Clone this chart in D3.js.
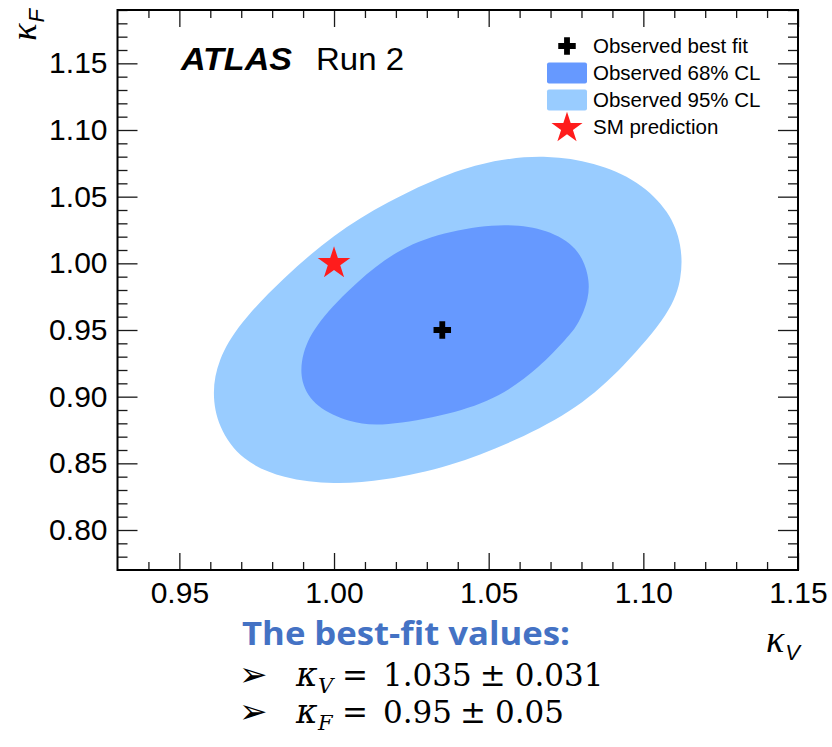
<!DOCTYPE html>
<html>
<head>
<meta charset="utf-8">
<script src="https://cdn.jsdelivr.net/npm/d3@7"></script>
<style>
  html, body { margin: 0; padding: 0; background: #fff; }
  svg { display: block; }
</style>
</head>
<body>
<svg id="chart" width="832" height="747"></svg>
<script>
// Best-fit coupling modifiers and their uncertainties
const kvBest = 1.035, kvErr = 0.031;
const kfBest = 0.95, kfErr = 0.05;
// Standard Model expectation
const smPoint = [1.00, 1.00];

// Axis ranges and labelled ticks
const kvRange = [0.93, 1.15];
const kfRange = [0.77, 1.19];
const kvMajorTicks = [0.95, 1.00, 1.05, 1.10, 1.15];
const kfMajorTicks = [0.80, 0.85, 0.90, 0.95, 1.00, 1.05, 1.10, 1.15];

// Likelihood contours, [kappa_V, kappa_F]
const contour95 = [
  [1.054, 1.0785], [1.069, 1.081], [1.084, 1.076], [1.0985, 1.062],
  [1.1085, 1.039], [1.1125, 1.014], [1.1125, 0.989], [1.109, 0.9635],
  [1.0935, 0.922], [1.079, 0.8915], [1.059, 0.867], [1.0375, 0.8475],
  [1.016, 0.837], [1.000, 0.834], [0.9835, 0.8385], [0.970, 0.852],
  [0.9625, 0.877], [0.9605, 0.903], [0.9625, 0.9275], [0.969, 0.954],
  [0.9835, 0.989], [1.000, 1.022], [1.017, 1.046], [1.0375, 1.0685]
];
const contour68 = [
  [1.0375, 1.0248], [1.056, 1.0302], [1.069, 1.0255], [1.079, 1.012],
  [1.0825, 0.991], [1.0825, 0.974], [1.079, 0.954], [1.0755, 0.9445],
  [1.0665, 0.922], [1.0537, 0.8995], [1.0375, 0.8865], [1.0158, 0.8775],
  [1.005, 0.8805], [0.994, 0.892], [0.989, 0.9103], [0.9895, 0.9328],
  [0.9945, 0.956], [1.0074, 0.9865], [1.0213, 1.012]
];

const legendLabels = ["Observed best fit", "Observed 68% CL", "Observed 95% CL", "SM prediction"];

const colors = { cl68: "#6699ff", cl95: "#99ccff", sm: "#ff1c1c", fit: "#000" };

const svg = d3.select("#chart");
const x = d3.scaleLinear().domain(kvRange).range([117.5, 798]);
const y = d3.scaleLinear().domain(kfRange).range([570, 10]);
const [x0, x1] = x.range();
const [y0, y1] = y.range();

svg.append("clipPath").attr("id", "frame-clip")
  .append("rect").attr("x", x0).attr("y", y1).attr("width", x1 - x0).attr("height", y0 - y1);

// Contours
const contourLine = d3.line()
  .x(d => x(d[0])).y(d => y(d[1]))
  .curve(d3.curveBasisClosed);

const plot = svg.append("g").attr("clip-path", "url(#frame-clip)");
plot.append("path").attr("d", contourLine(contour95)).attr("fill", colors.cl95);
plot.append("path").attr("d", contourLine(contour68)).attr("fill", colors.cl68);

// SM prediction and best fit
const star = d3.symbol().type(d3.symbolStar);
const cross = d3.symbol().type(d3.symbolCross);
plot.append("path").attr("d", star.size(330)())
  .attr("transform", `translate(${x(smPoint[0])},${y(smPoint[1])})`)
  .attr("fill", colors.sm);
plot.append("path").attr("d", cross.size(170)())
  .attr("transform", `translate(${x(kvBest)},${y(kfBest)})`)
  .attr("fill", colors.fit);

// Axes: major and minor ticks on all four sides, pointing inward
const kvMinor = d3.range(0.94, 1.1505, 0.01).filter(v => !kvMajorTicks.some(t => Math.abs(t - v) < 1e-6));
const kfMinor = d3.range(0.78, 1.1905, 0.01).filter(v => !kfMajorTicks.some(t => Math.abs(t - v) < 1e-6));
const fmt2 = d3.format(".2f");

function styleAxis(g) {
  g.select(".domain").remove();
  g.selectAll(".tick line").attr("stroke", "#1a1a1a").attr("stroke-width", 1.3);
  g.selectAll(".tick text").attr("fill", "#000");
  g.attr("font-family", "'Liberation Sans', Arial, sans-serif").attr("font-size", 30);
}

svg.append("g").attr("transform", `translate(0,${y0})`)
  .call(d3.axisBottom(x).tickValues(kvMajorTicks).tickSize(-17).tickPadding(12).tickFormat(fmt2)).call(styleAxis);
svg.append("g").attr("transform", `translate(0,${y0})`)
  .call(d3.axisBottom(x).tickValues(kvMinor).tickSize(-8).tickFormat("")).call(styleAxis);
svg.append("g").attr("transform", `translate(0,${y1})`)
  .call(d3.axisTop(x).tickValues(kvMajorTicks).tickSize(-17).tickFormat("")).call(styleAxis);
svg.append("g").attr("transform", `translate(0,${y1})`)
  .call(d3.axisTop(x).tickValues(kvMinor).tickSize(-8).tickFormat("")).call(styleAxis);

svg.append("g").attr("transform", `translate(${x0},0)`)
  .call(d3.axisLeft(y).tickValues(kfMajorTicks).tickSize(-20).tickPadding(10).tickFormat(fmt2)).call(styleAxis);
svg.append("g").attr("transform", `translate(${x0},0)`)
  .call(d3.axisLeft(y).tickValues(kfMinor).tickSize(-10).tickFormat("")).call(styleAxis);
svg.append("g").attr("transform", `translate(${x1},0)`)
  .call(d3.axisRight(y).tickValues(kfMajorTicks).tickSize(-20).tickFormat("")).call(styleAxis);
svg.append("g").attr("transform", `translate(${x1},0)`)
  .call(d3.axisRight(y).tickValues(kfMinor).tickSize(-10).tickFormat("")).call(styleAxis);

// Frame
svg.append("rect").attr("x", x0).attr("y", y1).attr("width", x1 - x0).attr("height", y0 - y1)
  .attr("fill", "none").attr("stroke", "#000").attr("stroke-width", 2);

// Axis titles
const xTitle = svg.append("text").attr("x", 800).attr("y", 652).attr("text-anchor", "end");
xTitle.append("tspan").attr("font-family", "'Liberation Serif', serif").attr("font-style", "italic")
  .attr("font-size", 38).text("κ");
xTitle.append("tspan").attr("font-family", "'Liberation Sans', sans-serif").attr("font-style", "italic")
  .attr("font-size", 22).attr("dx", 1).attr("dy", 8).text("V");

const yTitle = svg.append("text").attr("transform", "translate(36,9) rotate(-90)").attr("text-anchor", "end");
yTitle.append("tspan").attr("font-family", "'Liberation Serif', serif").attr("font-style", "italic")
  .attr("font-size", 36).text("κ");
yTitle.append("tspan").attr("font-family", "'Liberation Sans', sans-serif").attr("font-style", "italic")
  .attr("font-size", 22).attr("dx", 1).attr("dy", 8).text("F");

// Experiment label
svg.append("text").attr("x", 181).attr("y", 70)
  .attr("font-family", "'Liberation Sans', Arial, sans-serif").attr("font-weight", "bold").attr("font-style", "italic")
  .attr("font-size", 31).attr("textLength", 111).attr("lengthAdjust", "spacingAndGlyphs").text("ATLAS");
svg.append("text").attr("x", 316).attr("y", 70)
  .attr("font-family", "'Liberation Sans', Arial, sans-serif")
  .attr("font-size", 31).attr("textLength", 88).attr("lengthAdjust", "spacingAndGlyphs").text("Run 2");

// Legend
const legend = svg.append("g").attr("font-family", "'Liberation Sans', Arial, sans-serif").attr("font-size", 20.5);
const rowY = i => 46 + i * 27;
const markX = 567;
legend.append("path").attr("d", cross.size(170)()).attr("transform", `translate(${markX},${rowY(0)})`).attr("fill", colors.fit);
legend.append("rect").attr("x", markX - 20).attr("y", rowY(1) - 10.5).attr("width", 40).attr("height", 21)
  .attr("rx", 2).attr("fill", colors.cl68);
legend.append("rect").attr("x", markX - 20).attr("y", rowY(2) - 10.5).attr("width", 40).attr("height", 21)
  .attr("rx", 2).attr("fill", colors.cl95);
legend.append("path").attr("d", star.size(300)()).attr("transform", `translate(${markX},${rowY(3) + 1})`).attr("fill", colors.sm);
legend.selectAll("text.lab").data(legendLabels).join("text").attr("class", "lab")
  .attr("x", 593).attr("y", (d, i) => rowY(i) + 7).attr("fill", "#000").text(d => d);

// Summary of the best-fit values
svg.append("text").attr("x", 242).attr("y", 645)
  .attr("font-family", "'Open Sans', Lato, sans-serif").attr("font-weight", "bold")
  .attr("font-size", 33).attr("textLength", 328).attr("lengthAdjust", "spacingAndGlyphs")
  .attr("fill", "#4472c4").text("The best-fit values:");

function summaryLine(yBase, sub, value, err, fmt) {
  const g = svg.append("g").attr("font-family", "'DejaVu Serif', serif").attr("font-size", 31).attr("fill", "#000");
  g.append("text").attr("x", 239).attr("y", yBase).attr("font-family", "'DejaVu Sans', sans-serif")
    .attr("font-size", 34).text("➢");
  g.append("text").attr("x", 296).attr("y", yBase).attr("font-style", "italic").attr("font-size", 33).text("κ");
  g.append("text").attr("x", 318).attr("y", yBase + 7).attr("font-style", "italic").attr("font-size", 21).text(sub);
  g.append("text").attr("x", 342).attr("y", yBase).text("=");
  const v = g.append("text").attr("x", 383).attr("y", yBase).text(fmt(value));
  const pmX = 383 + v.node().getComputedTextLength() + 8;
  const pm = g.append("text").attr("x", pmX).attr("y", yBase).text("±");
  g.append("text").attr("x", pmX + pm.node().getComputedTextLength() + 9).attr("y", yBase).text(fmt(err));
}
summaryLine(686, "V", kvBest, kvErr, d3.format(".3f"));
summaryLine(723, "F", kfBest, kfErr, d3.format(".2f"));
</script>
</body>
</html>
